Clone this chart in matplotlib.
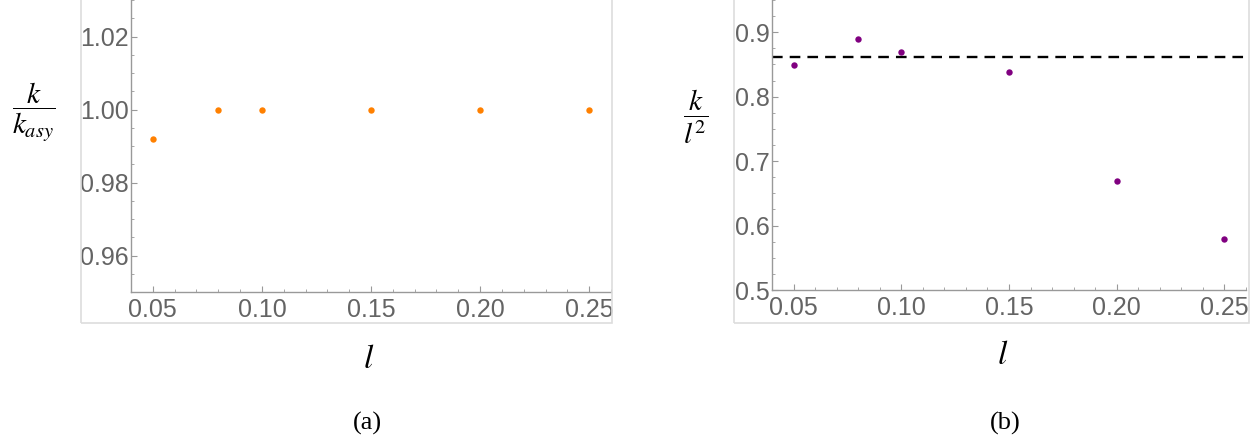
import matplotlib
matplotlib.use("Agg")
import matplotlib.pyplot as plt
from matplotlib.ticker import MultipleLocator, FormatStrFormatter
from matplotlib.patches import Rectangle

# Data
l_vals = [0.05, 0.08, 0.10, 0.15, 0.20, 0.25]
k_ratio = [0.992, 1.000, 1.000, 1.000, 1.000, 1.000]
k_over_l2 = [0.849, 0.889, 0.869, 0.839, 0.669, 0.579]
asym_line = 0.861

plt.rcParams['mathtext.fontset'] = 'stix'
W, H = 1252, 442
fig = plt.figure(figsize=(W / 100, H / 100), dpi=100)

def fx(px):
    return px / W

def fy(py):
    return 1 - py / H

# light gray frames around panels
for (x0, x1) in [(81, 612), (734, 1249)]:
    fig.patches.append(Rectangle((fx(x0), fy(323)), fx(x1) - fx(x0), 1.05 - fy(323),
                                 transform=fig.transFigure, fill=False,
                                 edgecolor='#dddddd', linewidth=1.2, zorder=0))

tick_color = '#646464'
spine_color = '#999999'

def style(ax):
    for s in ['top', 'right']:
        ax.spines[s].set_visible(False)
    for s in ['left', 'bottom']:
        ax.spines[s].set_color(spine_color)
        ax.spines[s].set_linewidth(1.0)
    ax.tick_params(which='both', direction='in', colors=spine_color,
                   labelcolor=tick_color, labelsize=18)
    ax.tick_params(which='major', length=4, width=0.8)
    ax.tick_params(which='minor', length=2.5, width=0.6)
    ax.tick_params(axis='y', pad=1.5)
    ax.tick_params(axis='x', pad=4)
    for lab in ax.get_xticklabels() + ax.get_yticklabels():
        lab.set_family('Liberation Sans')
    ax.set_facecolor('none')

# Panel (a)
ax1 = fig.add_axes([fx(131), fy(292), fx(611) - fx(131), 1 - fy(292)])
ax1.plot(l_vals, k_ratio, 'o', color='#ff8000', markersize=4.6, markeredgewidth=0)
ax1.set_xlim(0.04, 0.26)
ax1.set_ylim(0.95, 1.03)
ax1.xaxis.set_major_locator(MultipleLocator(0.05))
ax1.xaxis.set_minor_locator(MultipleLocator(0.01))
ax1.yaxis.set_major_locator(MultipleLocator(0.02))
ax1.yaxis.set_minor_locator(MultipleLocator(0.005))
ax1.xaxis.set_major_formatter(FormatStrFormatter('%.2f'))
ax1.yaxis.set_major_formatter(FormatStrFormatter('%.2f'))
style(ax1)

# Panel (b)
ax2 = fig.add_axes([fx(772), fy(290), fx(1246) - fx(772), 1 - fy(290)])
ax2.axhline(asym_line, color='black', linewidth=1.7, linestyle=(0, (4.5, 3)))
ax2.plot(l_vals, k_over_l2, 'o', color='#800080', markersize=4.6, markeredgewidth=0)
ax2.set_xlim(0.04, 0.26)
ax2.set_ylim(0.5, 0.95)
ax2.xaxis.set_major_locator(MultipleLocator(0.05))
ax2.xaxis.set_minor_locator(MultipleLocator(0.01))
ax2.yaxis.set_major_locator(MultipleLocator(0.1))
ax2.yaxis.set_minor_locator(MultipleLocator(0.025))
ax2.xaxis.set_major_formatter(FormatStrFormatter('%.2f'))
ax2.yaxis.set_major_formatter(FormatStrFormatter('%.1f'))
style(ax2)

# Axis labels
fig.text(fx(34), fy(112), r'$\dfrac{k}{k_{asy}}$', fontsize=21, ha='center', va='center')
fig.text(fx(696), fy(117), r'$\dfrac{k}{l^2}$', fontsize=21, ha='center', va='center')
fig.text(fx(369), fy(358), r'$l$', fontsize=24, ha='center', va='center')
fig.text(fx(1003), fy(355), r'$l$', fontsize=24, ha='center', va='center')

# Panel captions
fig.text(fx(367), fy(423), '(a)', fontsize=19, family='Liberation Serif', ha='center', va='center')
fig.text(fx(1005), fy(423), '(b)', fontsize=19, family='Liberation Serif', ha='center', va='center')

fig.savefig('out.png', dpi=100)
